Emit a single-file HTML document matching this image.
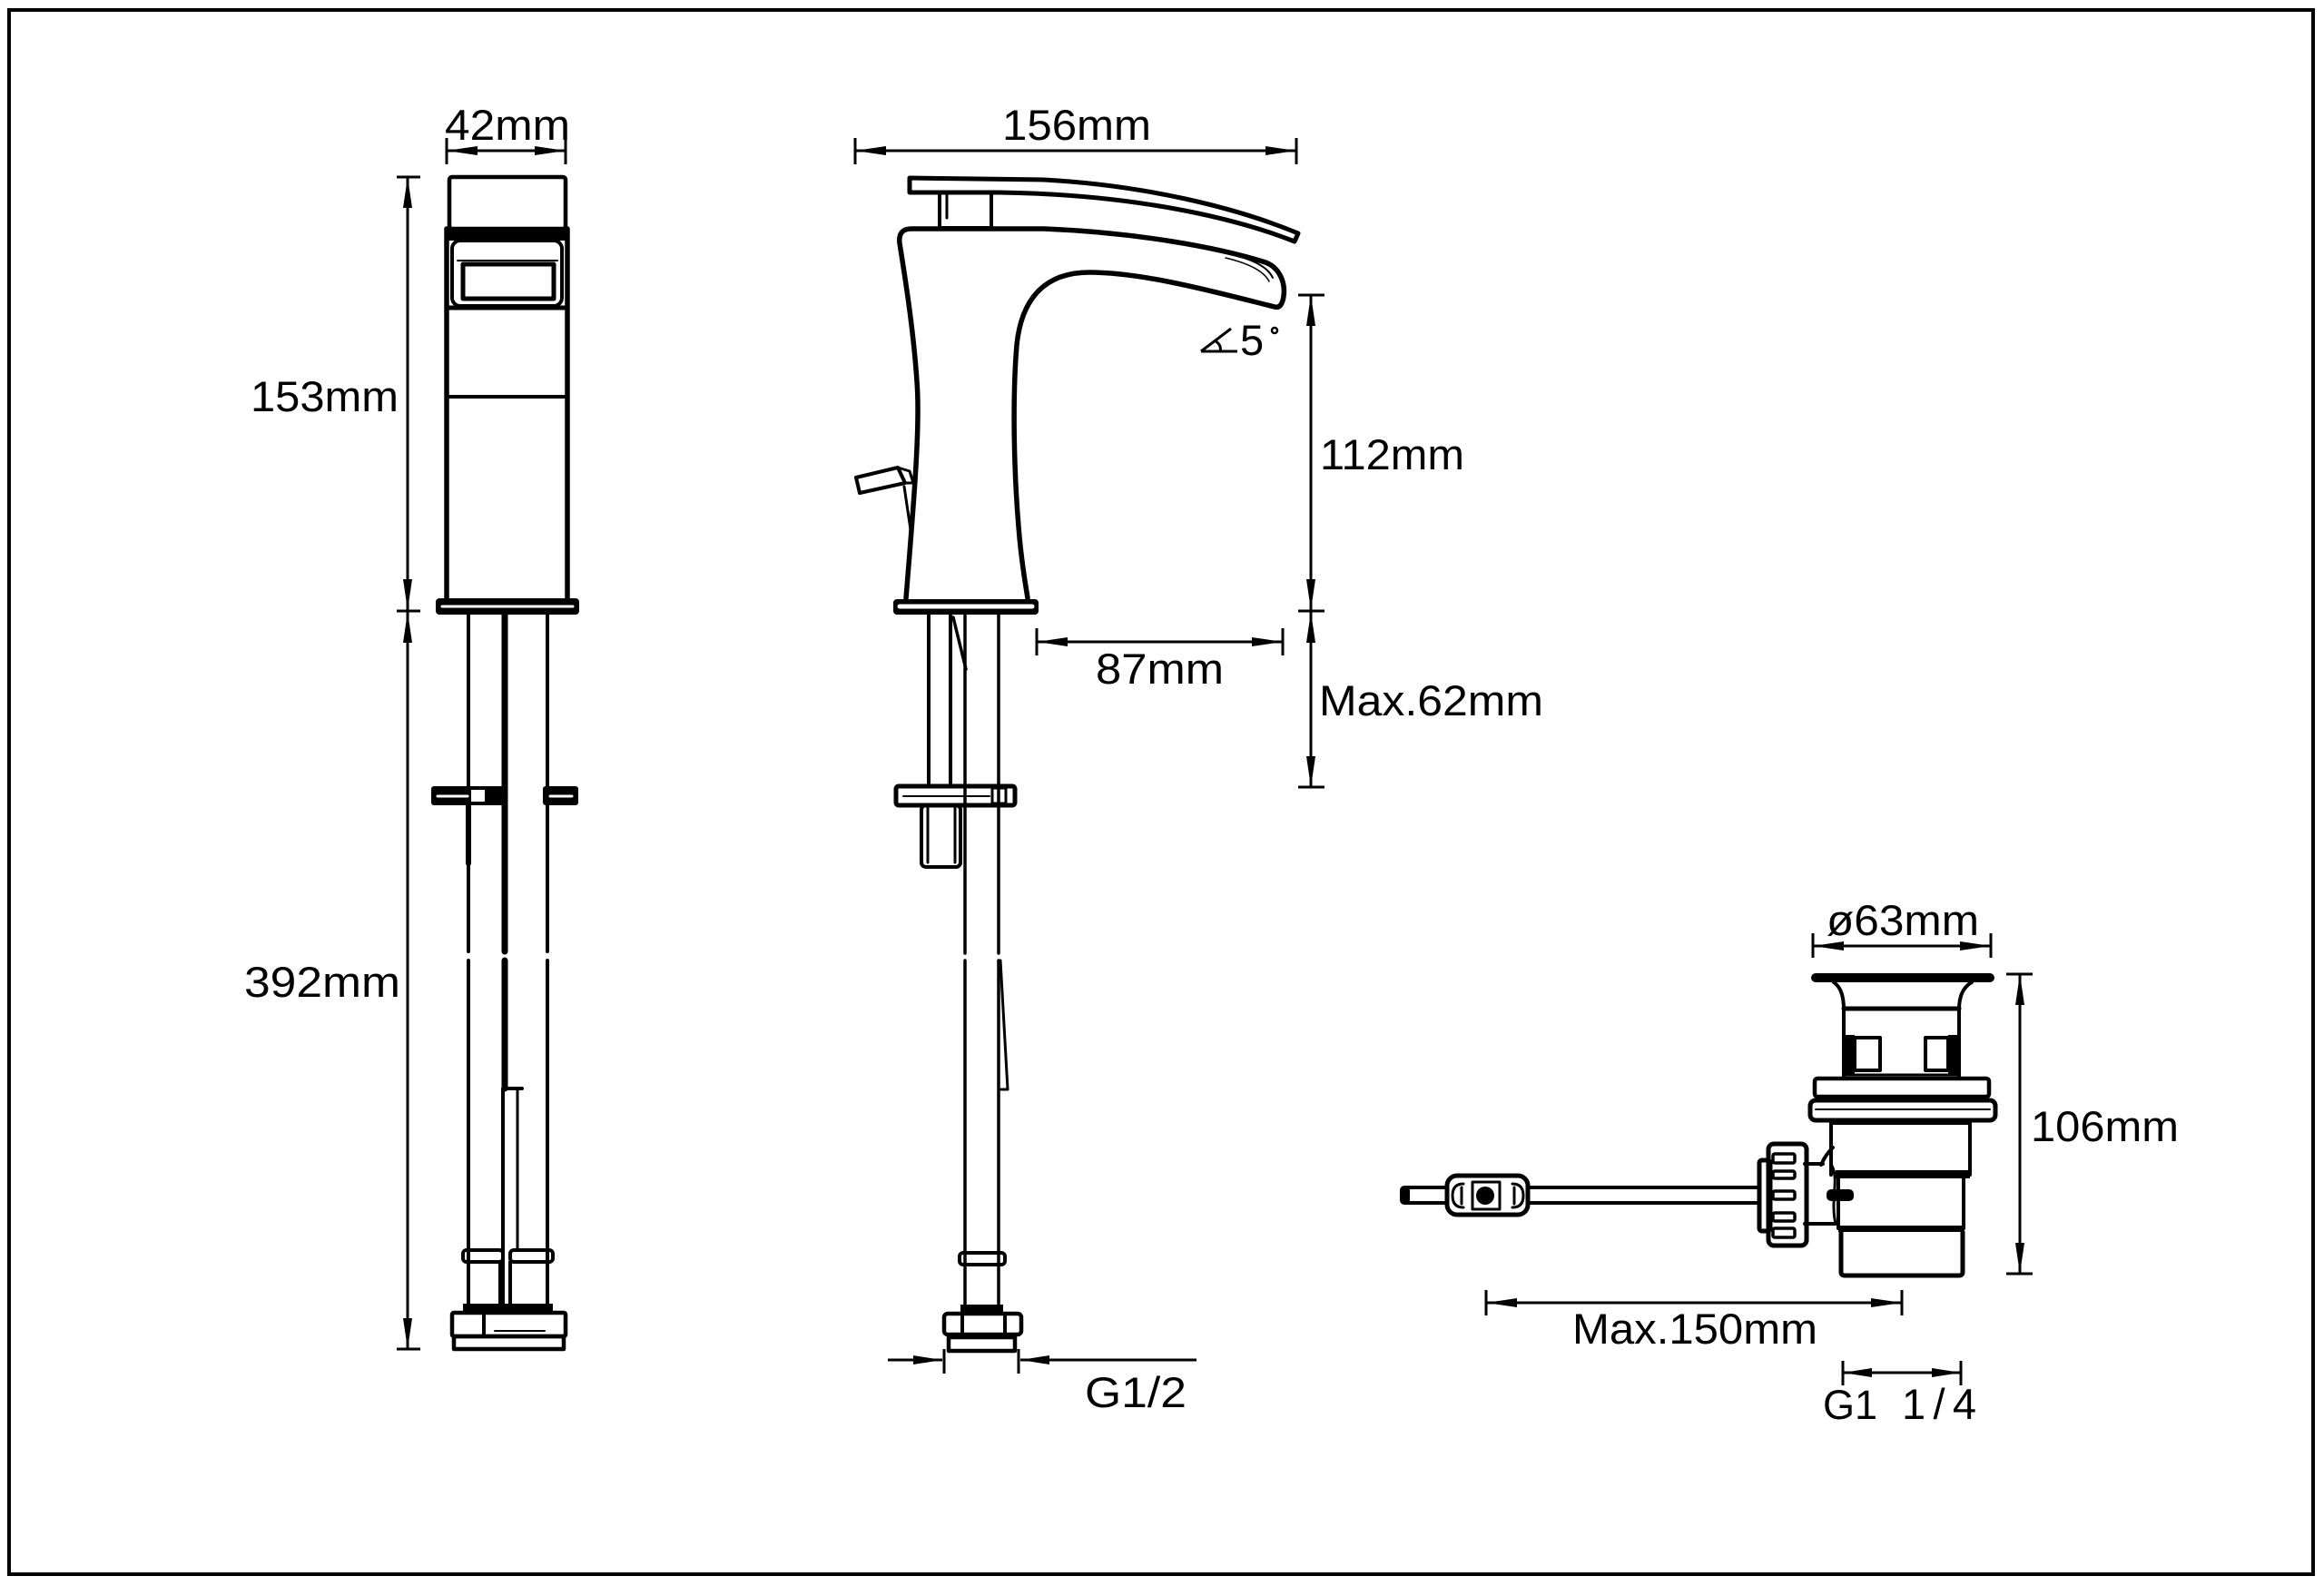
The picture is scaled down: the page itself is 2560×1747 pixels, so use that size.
<!DOCTYPE html>
<html>
<head>
<meta charset="utf-8">
<style>
html,body{margin:0;padding:0;background:#fff;}
svg{display:block;}
text{font-family:"Liberation Sans","DejaVu Sans",sans-serif;fill:#000;}
</style>
</head>
<body>
<svg width="2560" height="1747" viewBox="0 0 2560 1747" xmlns="http://www.w3.org/2000/svg">
<rect width="2560" height="1747" fill="#fff"/>
<rect x="10" y="11" width="2538" height="1723" fill="none" stroke="#000" stroke-width="4"/>

<!-- ================= LEFT VIEW ================= -->
<g stroke="#000" fill="none" stroke-linecap="round" stroke-linejoin="round">
  <rect x="495" y="195" width="128" height="57" rx="3" stroke-width="4.5"/>
  <line x1="492" y1="252" x2="492" y2="660" stroke-width="5.5"/>
  <line x1="625" y1="252" x2="625" y2="660" stroke-width="5.5"/>
  <rect x="492" y="252" width="133" height="13" fill="#000" stroke="none"/>
  <rect x="498" y="265" width="121" height="72" rx="9" stroke-width="4"/>
  <rect x="510" y="291" width="100" height="38" stroke-width="5"/>
  <line x1="504" y1="287" x2="614" y2="287" stroke-width="2"/>
  <line x1="492" y1="339" x2="625" y2="339" stroke-width="5"/>
  <line x1="492" y1="437" x2="625" y2="437" stroke-width="4"/>
  <rect x="480" y="659" width="158" height="18" rx="4" fill="#000" stroke="none"/>
  <line x1="487" y1="668" x2="631" y2="668" stroke="#fff" stroke-width="3"/>
  <line x1="516" y1="677" x2="516" y2="1048" stroke-width="4"/>
  <line x1="516" y1="1058" x2="516" y2="1437" stroke-width="4"/>
  <line x1="516" y1="888" x2="516" y2="951" stroke-width="6"/>
  <line x1="556" y1="677" x2="556" y2="1048" stroke-width="7"/>
  <line x1="556" y1="1058" x2="556" y2="1199" stroke-width="7"/>
  <line x1="554" y1="1199" x2="554" y2="1437" stroke-width="4"/>
  <line x1="556" y1="1199" x2="575" y2="1199" stroke-width="4"/>
  <line x1="570" y1="1199" x2="570" y2="1377" stroke-width="3"/>
  <line x1="603" y1="677" x2="603" y2="1048" stroke-width="4"/>
  <line x1="603" y1="1058" x2="603" y2="1437" stroke-width="4"/>
  <rect x="475" y="866" width="83" height="21" rx="3" fill="#000" stroke="none"/>
  <line x1="482" y1="877" x2="515" y2="877" stroke="#fff" stroke-width="3"/>
  <rect x="519" y="870" width="15" height="13" fill="#fff" stroke="none"/>
  <rect x="598" y="866" width="39" height="21" rx="3" fill="#000" stroke="none"/>
  <line x1="606" y1="877" x2="630" y2="877" stroke="#fff" stroke-width="3"/>
  <rect x="510" y="1377" width="44" height="13" rx="4" stroke-width="4"/>
  <rect x="562" y="1377" width="47" height="13" rx="4" stroke-width="4"/>
  <line x1="551" y1="1390" x2="551" y2="1437" stroke-width="4"/>
  <line x1="562" y1="1390" x2="562" y2="1437" stroke-width="4"/>
  <rect x="510" y="1436" width="99" height="8" fill="#000" stroke="none"/>
  <rect x="498" y="1446" width="125" height="26" rx="2" stroke-width="4.5"/>
  <line x1="533" y1="1446" x2="533" y2="1470" stroke-width="4"/>
  <line x1="545" y1="1466" x2="600" y2="1466" stroke-width="2"/>
  <rect x="500" y="1472" width="121" height="14" stroke-width="4.5"/>
</g>

<g stroke="#000" stroke-width="3" fill="none">
  <line x1="492" y1="152" x2="492" y2="181"/>
  <line x1="623" y1="152" x2="623" y2="181"/>
  <line x1="492" y1="166" x2="623" y2="166"/>
  <line x1="449" y1="195" x2="449" y2="1486"/>
  <line x1="437" y1="195" x2="463" y2="195"/>
  <line x1="437" y1="673" x2="463" y2="673"/>
  <line x1="437" y1="1486" x2="463" y2="1486"/>
</g>
<g fill="#000">
  <polygon points="492,166 526,161 526,171"/>
  <polygon points="623,166 589,161 589,171"/>
  <polygon points="449,195 444,229 454,229"/>
  <polygon points="449,672 444,638 454,638"/>
  <polygon points="449,674 444,708 454,708"/>
  <polygon points="449,1486 444,1452 454,1452"/>
</g>
<text x="490" y="154" font-size="47" textLength="138" lengthAdjust="spacingAndGlyphs">42mm</text>
<text x="276" y="453" font-size="47" textLength="163" lengthAdjust="spacingAndGlyphs">153mm</text>
<text x="269" y="1098" font-size="47" textLength="172" lengthAdjust="spacingAndGlyphs">392mm</text>

<!-- ================= MIDDLE VIEW ================= -->
<g stroke="#000" fill="none" stroke-linecap="round" stroke-linejoin="round">
  <path d="M1002,196 L1150,198 C1260,204 1360,228 1430,257 L1426,266 C1360,240 1250,214 1100,212 L1002,212 Z" stroke-width="5"/>
  <rect x="1035" y="212" width="57" height="39" stroke-width="4"/>
  <line x1="1043" y1="214" x2="1043" y2="240" stroke-width="3"/>
  <path d="M998,659 C1006,560 1014,470 1010,420 C1006,360 996,300 991,268 Q989,252 1004,252 L1150,252 C1250,256 1340,272 1394,289 C1410,295 1416,312 1414,326 C1413,334 1410,340 1404,338 C1340,322 1260,300 1200,300 C1150,300 1125,330 1120,380 C1115,440 1117,520 1122,580 C1125,620 1130,645 1132,659" stroke-width="5.5"/>
  <path d="M1352,279 C1378,285 1396,293 1402,306" stroke-width="2"/>
  <path d="M1350,284 C1375,290 1392,298 1398,310" stroke-width="1.5"/>
  <polygon points="943,526 989,515 997,532 947,543" stroke-width="4"/>
  <path d="M989,515 L1002,519 L1006,532 L997,532" stroke-width="3"/>
  <path d="M996,536 L1004,590" stroke-width="3"/>
  <rect x="984" y="660" width="160" height="17" rx="4" fill="#000" stroke="none"/>
  <line x1="991" y1="668" x2="1137" y2="668" stroke="#fff" stroke-width="5"/>
  <line x1="1023" y1="677" x2="1023" y2="866" stroke-width="4"/>
  <line x1="1047" y1="677" x2="1047" y2="866" stroke-width="4"/>
  <line x1="1050" y1="680" x2="1064" y2="737" stroke-width="3.5"/>
  <line x1="1063" y1="677" x2="1063" y2="1050" stroke-width="3.5"/>
  <line x1="1063" y1="1058" x2="1063" y2="1440" stroke-width="3.5"/>
  <line x1="1100" y1="677" x2="1100" y2="1050" stroke-width="3.5"/>
  <line x1="1100" y1="1058" x2="1100" y2="1440" stroke-width="3.5"/>
  <polyline points="1102,1058 1110,1200 1103,1200" stroke-width="3"/>
  <rect x="987" y="866" width="131" height="21" rx="3" stroke-width="5"/>
  <line x1="995" y1="877" x2="1090" y2="877" stroke-width="2"/>
  <rect x="1093" y="868" width="15" height="17" stroke-width="3"/>
  <rect x="1015" y="887" width="43" height="68" rx="5" stroke-width="4"/>
  <line x1="1022" y1="889" x2="1022" y2="950" stroke-width="3"/>
  <line x1="1052" y1="889" x2="1052" y2="950" stroke-width="3"/>
  <rect x="1057" y="1380" width="50" height="13" rx="4" stroke-width="4"/>
  <rect x="1058" y="1437" width="47" height="8" fill="#000" stroke="none"/>
  <rect x="1040" y="1447" width="85" height="23" rx="4" stroke-width="4.5"/>
  <line x1="1060" y1="1447" x2="1060" y2="1470" stroke-width="4"/>
  <line x1="1107" y1="1447" x2="1107" y2="1470" stroke-width="4"/>
  <rect x="1045" y="1473" width="73" height="15" stroke-width="4.5"/>
</g>

<g stroke="#000" stroke-width="3" fill="none">
  <line x1="942" y1="152" x2="942" y2="181"/>
  <line x1="1428" y1="152" x2="1428" y2="181"/>
  <line x1="942" y1="166" x2="1428" y2="166"/>
  <line x1="1444" y1="325" x2="1444" y2="867"/>
  <line x1="1430" y1="325" x2="1459" y2="325"/>
  <line x1="1430" y1="673" x2="1459" y2="673"/>
  <line x1="1430" y1="867" x2="1459" y2="867"/>
  <line x1="1142" y1="692" x2="1142" y2="722"/>
  <line x1="1413" y1="692" x2="1413" y2="722"/>
  <line x1="1142" y1="707" x2="1413" y2="707"/>
  <line x1="978" y1="1498" x2="1038" y2="1498"/>
  <line x1="1124" y1="1498" x2="1318" y2="1498"/>
  <line x1="1040" y1="1486" x2="1040" y2="1513"/>
  <line x1="1122" y1="1486" x2="1122" y2="1513"/>
  <line x1="1323" y1="387" x2="1363" y2="387"/>
  <line x1="1323" y1="387" x2="1356" y2="362"/>
  <path d="M1338,375 Q1346,380 1344,387"/>
  <circle cx="1404" cy="364" r="3" stroke-width="2.5"/>
</g>
<g fill="#000">
  <polygon points="942,166 976,161 976,171"/>
  <polygon points="1428,166 1394,161 1394,171"/>
  <polygon points="1444,325 1439,359 1449,359"/>
  <polygon points="1444,672 1439,638 1449,638"/>
  <polygon points="1444,674 1439,708 1449,708"/>
  <polygon points="1444,867 1439,833 1449,833"/>
  <polygon points="1142,707 1176,702 1176,712"/>
  <polygon points="1413,707 1379,702 1379,712"/>
  <polygon points="1038,1498 1006,1493 1006,1503"/>
  <polygon points="1124,1498 1156,1493 1156,1503"/>
</g>
<text x="1104" y="154" font-size="47" textLength="164" lengthAdjust="spacingAndGlyphs">156mm</text>
<text x="1366" y="391" font-size="47">5</text>
<text x="1454" y="517" font-size="47" textLength="159" lengthAdjust="spacingAndGlyphs">112mm</text>
<text x="1453" y="788" font-size="47" textLength="247" lengthAdjust="spacingAndGlyphs">Max.62mm</text>
<text x="1207" y="753" font-size="47" textLength="141" lengthAdjust="spacingAndGlyphs">87mm</text>
<text x="1195" y="1550" font-size="47" textLength="112" lengthAdjust="spacingAndGlyphs">G1/2</text>

<!-- ================= DRAIN ================= -->
<g stroke="#000" fill="none" stroke-linecap="round" stroke-linejoin="round">
  <rect x="1995" y="1072" width="202" height="10" rx="5" fill="#000" stroke="none"/>
  <path d="M2020,1082 C2029,1088 2031,1100 2031,1112" stroke-width="4"/>
  <path d="M2172,1082 C2161,1088 2158,1100 2158,1112" stroke-width="4"/>
  <line x1="2031" y1="1111" x2="2158" y2="1111" stroke-width="5"/>
  <line x1="2031" y1="1110" x2="2031" y2="1188" stroke-width="4"/>
  <line x1="2158" y1="1110" x2="2158" y2="1188" stroke-width="4"/>
  <rect x="2031" y="1140" width="12" height="43" fill="#000" stroke="none"/>
  <rect x="2043" y="1143" width="28" height="36" stroke-width="4"/>
  <rect x="2146" y="1140" width="12" height="43" fill="#000" stroke="none"/>
  <rect x="2121" y="1143" width="25" height="36" stroke-width="4"/>
  <line x1="2031" y1="1184" x2="2158" y2="1184" stroke-width="3"/>
  <rect x="1999" y="1188" width="192" height="20" rx="3" stroke-width="4.5"/>
  <rect x="1994" y="1212" width="204" height="22" rx="6" stroke-width="5"/>
  <line x1="2000" y1="1222" x2="2192" y2="1222" stroke-width="2"/>
  <line x1="2017" y1="1234" x2="2017" y2="1294" stroke-width="4"/>
  <line x1="2170" y1="1234" x2="2170" y2="1294" stroke-width="4"/>
  <line x1="2017" y1="1237" x2="2170" y2="1237" stroke-width="4"/>
  <rect x="2022" y="1289" width="148" height="9" fill="#000" stroke="none"/>
  <line x1="2025" y1="1298" x2="2025" y2="1353" stroke-width="4"/>
  <line x1="2163" y1="1298" x2="2163" y2="1353" stroke-width="4"/>
  <rect x="2025" y="1350" width="138" height="7" fill="#000" stroke="none"/>
  <path d="M2028,1357 L2028,1401 Q2028,1405 2032,1405 L2158,1405 Q2162,1405 2162,1401 L2162,1357" stroke-width="5"/>
  <line x1="1988" y1="1282" x2="2008" y2="1282" stroke-width="4"/>
  <line x1="1988" y1="1348" x2="2022" y2="1348" stroke-width="4"/>
  <path d="M2019,1264 C2013,1270 2009,1276 2006,1283" stroke-width="4"/>
  <path d="M2018,1284 C2026,1300 2016,1322 2022,1348" stroke-width="3"/>
  <rect x="2012" y="1310" width="30" height="13" rx="5" fill="#000" stroke="none"/>
  <rect x="1948" y="1260" width="42" height="112" rx="6" stroke-width="5"/>
  <rect x="1938" y="1278" width="12" height="78" rx="3" stroke-width="5"/>
  <rect x="1953" y="1271" width="24" height="10" rx="2" stroke-width="3.5"/>
  <rect x="1953" y="1290" width="24" height="8" rx="2" stroke-width="3.5"/>
  <rect x="1953" y="1312" width="24" height="9" rx="2" stroke-width="3.5"/>
  <rect x="1953" y="1336" width="24" height="9" rx="2" stroke-width="3.5"/>
  <rect x="1953" y="1353" width="24" height="10" rx="2" stroke-width="3.5"/>
  <line x1="1550" y1="1308" x2="1938" y2="1308" stroke-width="4"/>
  <line x1="1550" y1="1325" x2="1938" y2="1325" stroke-width="4"/>
  <rect x="1542" y="1306" width="11" height="21" rx="5" fill="#000" stroke="none"/>
  <rect x="1594" y="1295" width="89" height="43" rx="11" fill="#fff" stroke-width="5"/>
  <rect x="1622" y="1302" width="30" height="30" stroke-width="3"/>
  <circle cx="1636" cy="1317" r="10" fill="#000" stroke="none"/>
  <path d="M1612,1304 Q1600,1304 1600,1317 Q1600,1330 1612,1330" stroke-width="3"/>
  <line x1="1610" y1="1308" x2="1610" y2="1326" stroke-width="3"/>
  <path d="M1666,1304 Q1678,1304 1678,1317 Q1678,1330 1666,1330" stroke-width="3"/>
  <line x1="1668" y1="1308" x2="1668" y2="1326" stroke-width="3"/>
</g>

<g stroke="#000" stroke-width="3" fill="none">
  <line x1="1997" y1="1028" x2="1997" y2="1055"/>
  <line x1="2193" y1="1028" x2="2193" y2="1055"/>
  <line x1="1997" y1="1042" x2="2193" y2="1042"/>
  <line x1="2225" y1="1073" x2="2225" y2="1403"/>
  <line x1="2210" y1="1073" x2="2239" y2="1073"/>
  <line x1="2210" y1="1403" x2="2239" y2="1403"/>
  <line x1="1637" y1="1421" x2="1637" y2="1449"/>
  <line x1="2095" y1="1421" x2="2095" y2="1449"/>
  <line x1="1637" y1="1435" x2="2095" y2="1435"/>
  <line x1="2030" y1="1499" x2="2030" y2="1526"/>
  <line x1="2160" y1="1499" x2="2160" y2="1526"/>
  <line x1="2030" y1="1512" x2="2160" y2="1512"/>
</g>
<g fill="#000">
  <polygon points="1997,1042 2031,1037 2031,1047"/>
  <polygon points="2193,1042 2159,1037 2159,1047"/>
  <polygon points="2225,1073 2220,1107 2230,1107"/>
  <polygon points="2225,1403 2220,1369 2230,1369"/>
  <polygon points="1637,1435 1671,1430 1671,1440"/>
  <polygon points="2095,1435 2061,1430 2061,1440"/>
  <polygon points="2030,1512 2062,1507 2062,1517"/>
  <polygon points="2160,1512 2128,1507 2128,1517"/>
</g>
<text x="2012" y="1030" font-size="47" textLength="168" lengthAdjust="spacingAndGlyphs">ø63mm</text>
<text x="2237" y="1257" font-size="47" textLength="163" lengthAdjust="spacingAndGlyphs">106mm</text>
<text x="1732" y="1480" font-size="47" textLength="270" lengthAdjust="spacingAndGlyphs">Max.150mm</text>
<text x="2008" y="1563" font-size="45">G1</text>
<text x="2095" y="1563" font-size="47" textLength="82" lengthAdjust="spacing">1/4</text>
</svg>
</body>
</html>
